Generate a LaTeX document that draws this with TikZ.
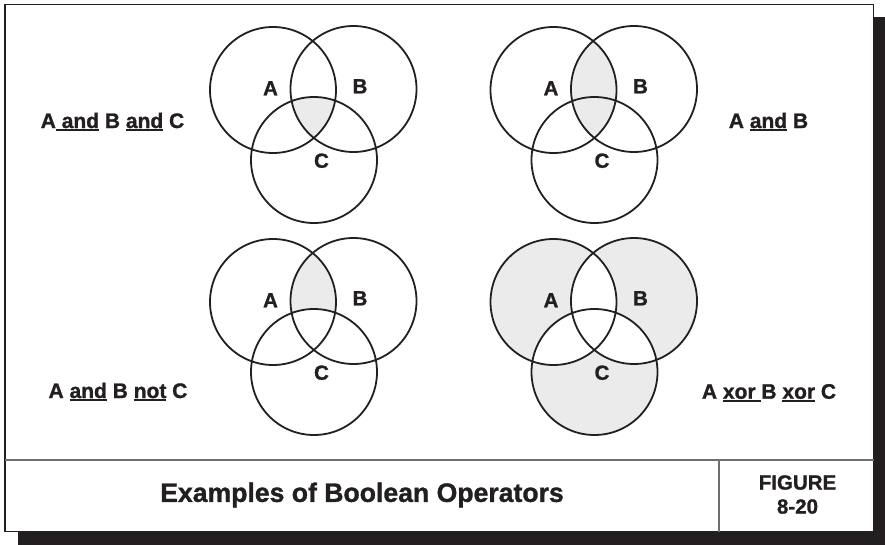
\documentclass[tikz,border=0pt]{standalone}
\usepackage{fontspec}
\setmainfont{Liberation Sans}[BoldFeatures={FakeBold=1.2}]
\usepackage{xcolor}
\usepackage{tikz}
\usetikzlibrary{positioning}
\definecolor{ink}{HTML}{231F20}
\definecolor{venngray}{HTML}{EBEBEB}
\definecolor{rulegray}{HTML}{6D6E71}
\newcommand{\uln}[1]{\leavevmode\setbox0\hbox{#1}\rlap{\rule[-3.2pt]{\wd0}{1.8pt}}\box0\relax}
\tikzset{
  ring/.style={draw=ink, line width=1.8pt},
  setlbl/.style={font=\fontsize{20.5}{22}\selectfont\bfseries, text=ink, inner sep=0pt},
  oplbl/.style={font=\fontsize{21}{24}\selectfont\bfseries, text=ink, inner sep=0pt},
  ttl/.style={font=\fontsize{26.6}{30}\selectfont\bfseries, text=ink, inner sep=0pt},
  fignum/.style={font=\fontsize{20.5}{24}\selectfont\bfseries, text=ink, inner sep=0pt, align=center},
  frame/.style={draw=ink, line width=1.6pt, fill=white},
  divider/.style={draw=rulegray, line width=1.5pt},
}

\begin{document}
\begin{tikzpicture}[x=1pt, y=-1pt]
\useasboundingbox (0,0) rectangle (885,545);
% shadow and frame
\fill[ink] (18,17) rectangle (885,545);
\draw[frame] (5,4.5) rectangle (873.5,531.5);
\draw[divider] (5,460) -- (873.5,460);
\draw[divider] (719,460) -- (719,531.5);

% circle centres
\coordinate (a1) at (273,90);    \coordinate (b1) at (353.5,89);  \coordinate (c1) at (314,160);
\coordinate (a2) at (553.5,90);  \coordinate (b2) at (634,89);    \coordinate (c2) at (594.5,160);
\coordinate (a3) at (273,302);   \coordinate (b3) at (353.5,301); \coordinate (c3) at (314,372);
\coordinate (a4) at (553.5,302); \coordinate (b4) at (634,301);   \coordinate (c4) at (594.5,372);

% shading
\begin{scope}
  \clip (a1) circle[radius=63pt]; \clip (b1) circle[radius=63pt];
  \fill[venngray] (c1) circle[radius=63pt];
\end{scope}
\begin{scope}
  \clip (a2) circle[radius=63pt];
  \fill[venngray] (b2) circle[radius=63pt];
\end{scope}
\begin{scope}
  \clip (a3) circle[radius=63pt]; \clip (b3) circle[radius=63pt];
  \fill[venngray] (b3) circle[radius=63pt];
  \fill[white] (c3) circle[radius=63pt];
\end{scope}
\fill[venngray] (a4) circle[radius=63pt] (b4) circle[radius=63pt] (c4) circle[radius=63pt];
\begin{scope}
  \clip (a4) circle[radius=63pt];
  \fill[white] (b4) circle[radius=63pt] (c4) circle[radius=63pt];
\end{scope}
\begin{scope}
  \clip (b4) circle[radius=63pt];
  \fill[white] (c4) circle[radius=63pt];
\end{scope}

% rings and set labels
\foreach \i in {1,2,3,4}{
  \draw[ring] (a\i) circle[radius=63pt] (b\i) circle[radius=63pt] (c\i) circle[radius=63pt];
  \node[setlbl, xshift=-2.5pt, yshift=1.7pt] (la\i) at (a\i) {A};
  \node[setlbl, xshift=6.5pt, yshift=2.7pt] (lb\i) at (b\i) {B};
  \node[setlbl, xshift=7.5pt, yshift=-0.7pt] (lc\i) at (c\i) {C};
}

% operator labels
\node[oplbl] (op1) at (112.5,122) {A\uln{\ and} B \uln{and} C};
\node[oplbl] (op2) at (768.5,122) {A \uln{and} B};
\node[oplbl] (op3) at (118,392) {A \uln{and} B \uln{not} C};
\node[oplbl] (op4) at (769,393) {A \uln{xor\ }B \uln{xor} C};

% caption bar
\node[ttl] (title) at (362,495) {Examples of Boolean Operators};
\node[fignum] (fig) at (797.5,494.5) {FIGURE\\8-20};
\end{tikzpicture}
\end{document}
